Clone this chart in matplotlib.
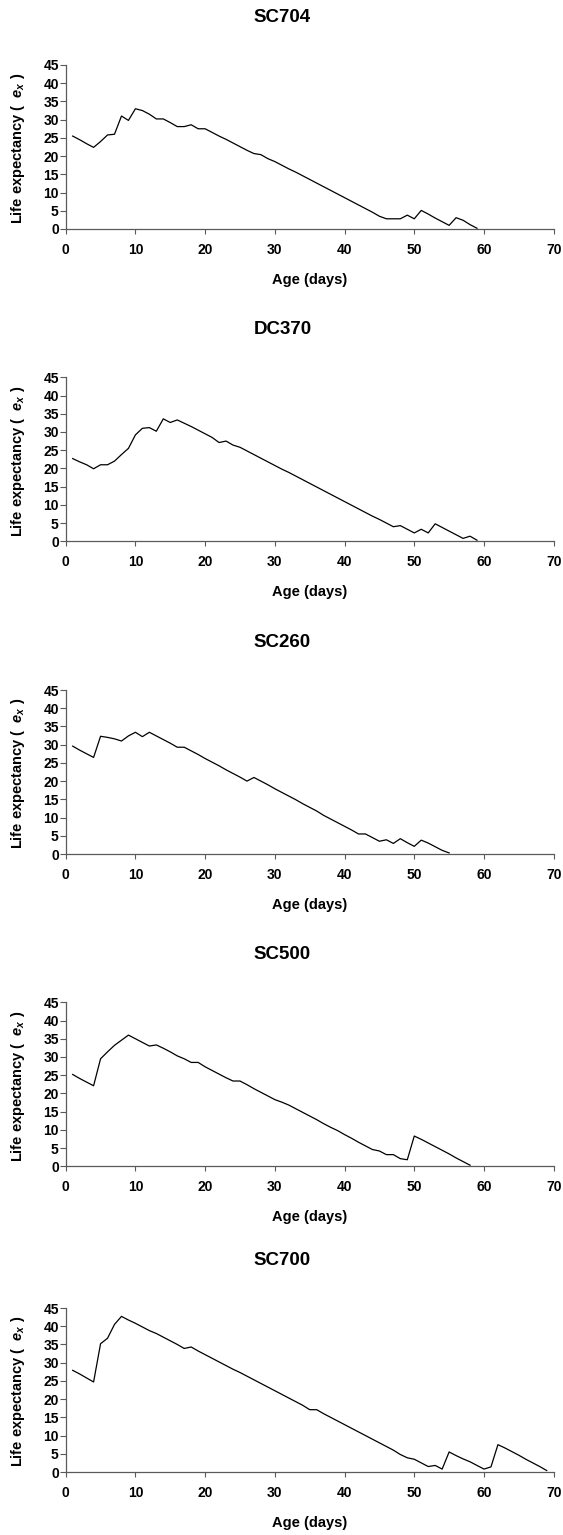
import numpy as np
import matplotlib
matplotlib.use("Agg")
import matplotlib.pyplot as plt

# --- DATA ---
TITLES = ["SC704", "DC370", "SC260", "SC500", "SC700"]

sc704 = [25.5, 24.5, 23.4, 22.4, 24.0, 25.8, 26.0, 31.0, 29.8, 33.0,
         32.5, 31.5, 30.2, 30.2, 29.2, 28.1, 28.1, 28.6, 27.5, 27.5,
         26.5, 25.5, 24.6, 23.6, 22.6, 21.6, 20.7, 20.4, 19.3, 18.5,
         17.5, 16.5, 15.6, 14.6, 13.6, 12.6, 11.6, 10.6, 9.6, 8.6,
         7.6, 6.6, 5.6, 4.6, 3.5, 2.8, 2.8, 2.8, 3.8, 2.8,
         5.1, 4.1, 3.0, 2.0, 1.0, 3.1, 2.4, 1.2, 0.2]

dc370 = [22.7, 21.8, 21.0, 19.9, 21.0, 21.0, 22.0, 23.8, 25.5, 29.2,
         31.0, 31.2, 30.2, 33.6, 32.6, 33.3, 32.4, 31.5, 30.5, 29.5,
         28.5, 27.1, 27.5, 26.4, 25.8, 24.8, 23.8, 22.8, 21.8, 20.8,
         19.8, 18.9, 17.9, 16.9, 15.9, 14.9, 13.9, 12.9, 11.9, 10.9,
         9.9, 8.9, 7.9, 6.9, 6.0, 5.0, 4.0, 4.3, 3.3, 2.3,
         3.3, 2.3, 4.8, 3.8, 2.8, 1.8, 0.8, 1.4, 0.3]

sc260 = [29.6, 28.5, 27.5, 26.5, 32.3, 32.0, 31.6, 31.0, 32.4, 33.4,
         32.2, 33.4, 32.4, 31.4, 30.4, 29.3, 29.3, 28.3, 27.3, 26.2,
         25.2, 24.2, 23.1, 22.1, 21.1, 20.0, 21.0, 20.0, 19.0, 17.9,
         16.9, 15.9, 14.9, 13.8, 12.8, 11.8, 10.6, 9.6, 8.6, 7.6,
         6.6, 5.5, 5.5, 4.5, 3.5, 3.9, 2.9, 4.2, 3.1, 2.1,
         3.8, 3.0, 2.0, 1.0, 0.3]

sc500 = [25.2, 24.1, 23.1, 22.1, 29.5, 31.4, 33.2, 34.6, 36.0, 35.0,
         34.0, 33.0, 33.3, 32.4, 31.4, 30.3, 29.5, 28.5, 28.5, 27.3,
         26.3, 25.3, 24.3, 23.4, 23.4, 22.4, 21.3, 20.3, 19.3, 18.3,
         17.6, 16.8, 15.8, 14.8, 13.8, 12.8, 11.7, 10.7, 9.8, 8.7,
         7.7, 6.6, 5.6, 4.6, 4.2, 3.2, 3.2, 2.1, 1.8, 8.3,
         7.4, 6.4, 5.4, 4.4, 3.4, 2.3, 1.3, 0.3]

sc700 = [27.9, 26.9, 25.8, 24.7, 35.2, 36.7, 40.5, 42.7, 41.7, 40.8,
         39.8, 38.8, 38.0, 37.0, 36.0, 35.0, 33.9, 34.3, 33.2, 32.2,
         31.2, 30.2, 29.2, 28.2, 27.3, 26.3, 25.3, 24.3, 23.3, 22.3,
         21.3, 20.3, 19.3, 18.3, 17.1, 17.1, 16.0, 15.0, 14.0, 13.0,
         12.0, 11.0, 10.0, 9.0, 8.0, 7.0, 6.0, 4.8, 3.9, 3.5,
         2.5, 1.5, 1.8, 0.8, 5.5, 4.5, 3.6, 2.8, 1.8, 0.8,
         1.4, 7.5, 6.6, 5.6, 4.6, 3.5, 2.5, 1.5, 0.4]

SERIES = [sc704, dc370, sc260, sc500, sc700]
X_TICKS = [0, 10, 20, 30, 40, 50, 60, 70]
Y_TICKS = [0, 5, 10, 15, 20, 25, 30, 35, 40, 45]

# --- STYLE ---
plt.rcParams['font.family'] = ['Liberation Sans', 'DejaVu Sans']
plt.rcParams['font.weight'] = 'bold'
plt.rcParams['mathtext.fontset'] = 'custom'
plt.rcParams['mathtext.it'] = 'Liberation Sans:italic:bold'
plt.rcParams['mathtext.rm'] = 'Liberation Sans:bold'

W, H = 563, 1535
fig = plt.figure(figsize=(W / 100, H / 100), dpi=100)

# layout in pixels: bottom edge of each panel, panel height, left/right edges
bottoms = [229, 541.3, 854, 1166.3, 1472]
ax_h = 164
left_px, right_px = 65.7, 553.7
ax_w = right_px - left_px
AXIS_GREY = '#5a5a5a'

for title, vals, bot in zip(TITLES, SERIES, bottoms):
    top = bot - ax_h
    ax = fig.add_axes([left_px / W, 1 - bot / H, ax_w / W, ax_h / H])
    days = np.arange(1, len(vals) + 1)
    ax.plot(days, vals, color='black', lw=0.9)

    ax.set_xlim(0, 70)
    ax.set_ylim(0, 45)
    ax.set_xticks(X_TICKS)
    ax.set_yticks(Y_TICKS)
    ax.tick_params(axis='both', labelsize=10, width=0.8, color=AXIS_GREY)
    ax.tick_params(axis='x', length=3.3, pad=6.5)
    ax.tick_params(axis='y', length=4, pad=1)
    for s in ['top', 'right']:
        ax.spines[s].set_visible(False)
    for s in ['left', 'bottom']:
        ax.spines[s].set_color(AXIS_GREY)
        ax.spines[s].set_linewidth(0.9)

    # title is centred on the figure, not on the axes
    fig.text(282.5 / W, 1 - (top - 47.5) / H, title, fontsize=13.5,
             fontweight='bold', ha='center', va='center')

    ax.set_xlabel('Age (days)', fontsize=10.5, fontweight='bold')
    ax.xaxis.set_label_coords(0.5, -51 / ax_h)
    ax.xaxis.label.set_verticalalignment('center')

    ax.set_ylabel(r'Life expectancy (  $e_x$ )', fontsize=10.5, fontweight='bold')
    ax.yaxis.set_label_coords(-(left_px - 18) / ax_w, 0.49)
    ax.yaxis.label.set_verticalalignment('center')

fig.savefig('out.png', dpi=100)
